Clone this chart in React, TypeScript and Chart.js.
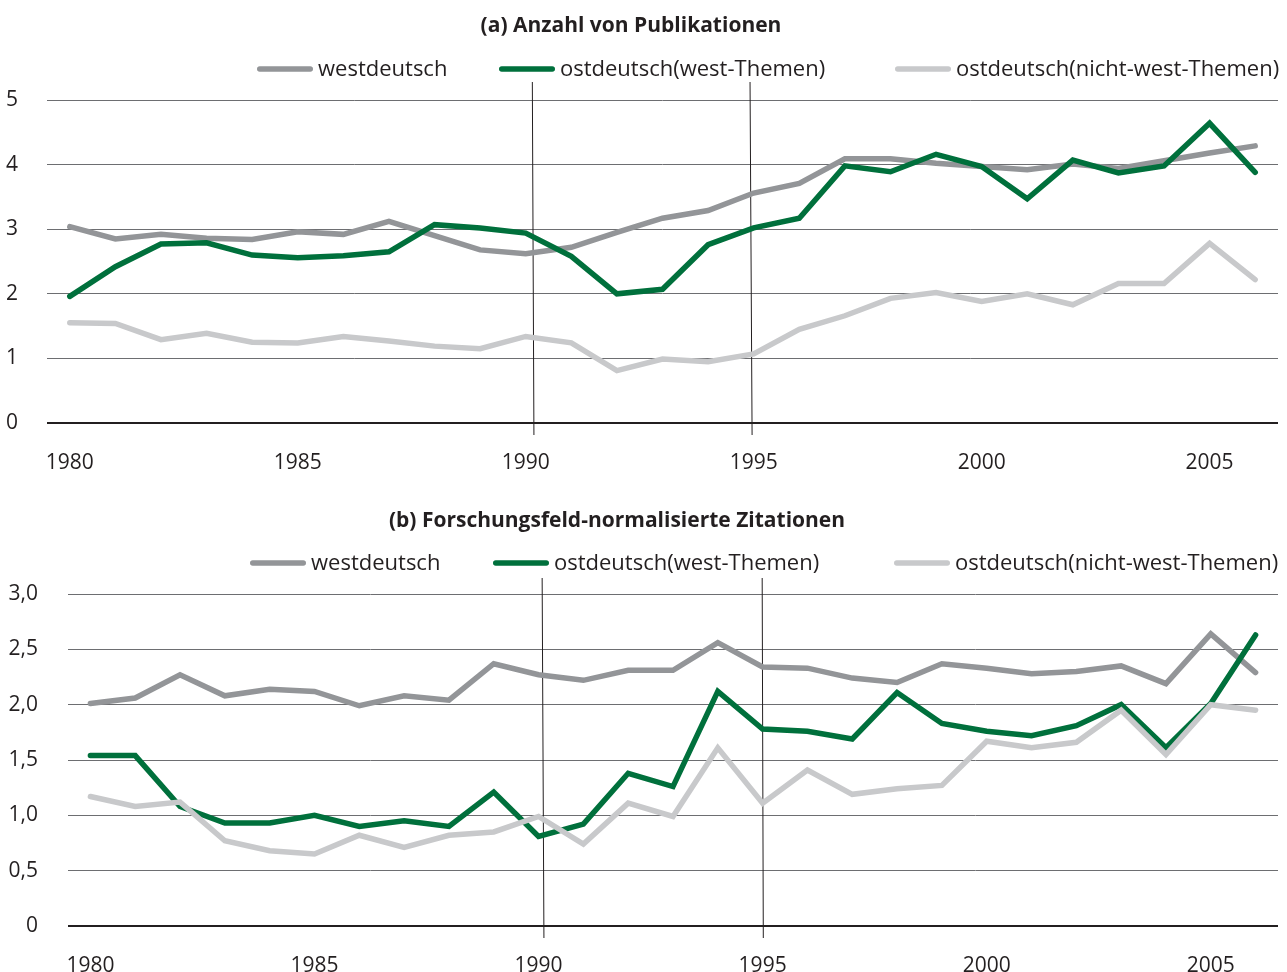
import React, { useEffect, useRef } from 'react';
import { Chart, registerables } from 'chart.js';

Chart.register(...registerables);

const years = ['1980','1981','1982','1983','1984','1985','1986','1987','1988','1989','1990','1991','1992','1993','1994','1995','1996','1997','1998','1999','2000','2001','2002','2003','2004','2005','2006'];
const xTickLabels = ['1980','1985','1990','1995','2000','2005'];
const markerYears = ['1990','1995'];

const seriesLabels = ['westdeutsch', 'ostdeutsch(west-Themen)', 'ostdeutsch(nicht-west-Themen)'];
const seriesColors = ['#939598', '#00703c', '#c8c9cb'];

// (a) Anzahl von Publikationen
const pubWest = [3.04,2.85,2.92,2.86,2.84,2.96,2.92,3.12,2.90,2.68,2.62,2.72,2.95,3.17,3.29,3.56,3.71,4.09,4.09,4.02,3.97,3.92,4.01,3.94,4.06,4.18,4.29];
const pubEastWest = [1.96,2.42,2.77,2.79,2.60,2.56,2.59,2.65,3.07,3.02,2.94,2.58,2.00,2.07,2.76,3.02,3.17,3.98,3.89,4.16,3.97,3.47,4.07,3.87,3.98,4.64,3.88];
const pubEastNonWest = [1.55,1.54,1.29,1.39,1.25,1.24,1.34,1.27,1.19,1.15,1.34,1.24,0.81,0.99,0.95,1.07,1.45,1.66,1.93,2.02,1.88,2.00,1.83,2.16,2.16,2.78,2.22];
const pubYTicks = [0,1,2,3,4,5];
const pubYTickLabels = ['0','1','2','3','4','5'];

// (b) Forschungsfeld-normalisierte Zitationen
const citWest = [2.01,2.06,2.27,2.08,2.14,2.12,1.99,2.08,2.04,2.37,2.27,2.22,2.31,2.31,2.56,2.34,2.33,2.24,2.20,2.37,2.33,2.28,2.30,2.35,2.19,2.64,2.29];
const citEastWest = [1.54,1.54,1.08,0.93,0.93,1.00,0.90,0.95,0.90,1.21,0.81,0.92,1.38,1.26,2.12,1.78,1.76,1.69,2.11,1.83,1.76,1.72,1.81,2.00,1.61,2.01,2.63];
const citEastNonWest = [1.17,1.08,1.12,0.77,0.68,0.65,0.82,0.71,0.82,0.85,0.99,0.74,1.11,0.99,1.61,1.11,1.41,1.19,1.24,1.27,1.67,1.61,1.66,1.95,1.55,2.00,1.95];
const citYTicks = [0,0.5,1,1.5,2,2.5,3];
const citYTickLabels = ['0','0,5','1,0','1,5','2,0','2,5','3,0'];

const FONT = '"Open Sans", "Noto Sans", sans-serif';
const TEXT = '#231f20';

const overlayPlugin = {
  id: 'overlay',
  beforeDatasetsDraw(chart: any, _args: any, opts: any) {
    const { ctx, chartArea } = chart;
    const xs = chart.scales.x;
    ctx.save();
    ctx.strokeStyle = TEXT;
    ctx.lineWidth = 1;
    for (const m of opts.markers) {
      const idx = years.indexOf(m.year);
      ctx.beginPath();
      ctx.moveTo(xs.getPixelForValue(idx + m.dTop), chartArea.top - opts.extTop);
      ctx.lineTo(xs.getPixelForValue(idx + m.dBottom), chartArea.bottom + opts.extBottom);
      ctx.stroke();
    }
    ctx.restore();
  },
  afterDraw(chart: any, _args: any, opts: any) {
    const { ctx } = chart;
    ctx.save();
    ctx.fillStyle = TEXT;
    ctx.font = `bold ${opts.titleSize}px ${FONT}`;
    ctx.textAlign = 'center';
    ctx.textBaseline = 'middle';
    ctx.fillText(opts.title, opts.titleX, opts.titleY);
    ctx.font = `${opts.legendSize}px ${FONT}`;
    ctx.textAlign = 'left';
    chart.data.datasets.forEach((ds: any, i: number) => {
      const x = opts.legendX[i];
      const y = opts.legendY;
      ctx.strokeStyle = ds.borderColor;
      ctx.lineWidth = 5.5;
      ctx.lineCap = 'round';
      ctx.beginPath();
      ctx.moveTo(x + 2.75, y);
      ctx.lineTo(x + opts.swatch - 2.75, y);
      ctx.stroke();
      ctx.fillStyle = TEXT;
      ctx.fillText(ds.label, x + opts.swatch + 5, y + 1);
    });
    ctx.restore();
  },
};

type Cfg = {
  top: number;
  height: number;
  series: number[][];
  yTicks: number[];
  yTickLabels: string[];
  yMax: number;
  yStep: number;
  yWidth: number;
  areaTop: number;
  xHeight: number;
  title: string;
  titleX: number;
  titleY: number;
  legendX: number[];
  legendY: number;
  markers: { year: string; dTop: number; dBottom: number }[];
  extTop: number;
};

function LineChart({ cfg }: { cfg: Cfg }) {
  const ref = useRef<HTMLCanvasElement>(null);
  useEffect(() => {
    const chart = new Chart(ref.current as HTMLCanvasElement, {
      type: 'line',
      data: {
        labels: years,
        datasets: cfg.series.map((s, i) => ({
          label: seriesLabels[i],
          data: s,
          borderColor: seriesColors[i],
          backgroundColor: seriesColors[i],
          borderWidth: 5.5,
          pointRadius: 0,
          pointHoverRadius: 0,
          tension: 0,
          borderCapStyle: 'round',
          borderJoinStyle: 'miter',
          fill: false,
          order: [2, 1, 0][i],
        })),
      },
      options: {
        animation: false,
        responsive: false,
        layout: { padding: { top: cfg.areaTop, right: 9, bottom: 0, left: 0 } },
        plugins: {
          legend: { display: false },
          title: { display: false },
          tooltip: { enabled: false },
          overlay: {
            title: cfg.title,
            titleX: cfg.titleX,
            titleY: cfg.titleY,
            titleSize: 21,
            legendX: cfg.legendX,
            legendY: cfg.legendY,
            legendSize: 22,
            swatch: 56,
            markers: cfg.markers,
            extTop: cfg.extTop,
            extBottom: 12,
          },
        } as any,
        scales: {
          x: {
            type: 'category',
            offset: true,
            grid: { display: false },
            border: { display: false },
            afterFit: (s: any) => { s.height = cfg.xHeight; },
            ticks: {
              autoSkip: false,
              maxRotation: 0,
              minRotation: 0,
              padding: 19,
              color: TEXT,
              font: { family: FONT, size: 21 },
              callback: (_v: any, i: number) => (xTickLabels.includes(years[i]) ? years[i] : ''),
            },
          },
          y: {
            min: 0,
            max: cfg.yMax,
            grid: {
              drawTicks: false,
              color: (c: any) => (c.tick && c.tick.value === 0 ? '#231f20' : '#6d6e71'),
              lineWidth: (c: any) => (c.tick && c.tick.value === 0 ? 2 : 1),
            },
            border: { display: false },
            afterFit: (s: any) => { s.width = cfg.yWidth; },
            ticks: {
              stepSize: cfg.yStep,
              padding: cfg.yWidth === 47 ? 29 : 30,
              color: TEXT,
              font: { family: FONT, size: 21 },
              callback: (v: any) => {
                const k = cfg.yTicks.findIndex((t) => Math.abs(t - Number(v)) < 1e-6);
                return k >= 0 ? cfg.yTickLabels[k] : '';
              },
            },
          },
        },
      },
      plugins: [overlayPlugin as any],
    });
    return () => chart.destroy();
  }, []);
  return (
    <div style={{ position: 'absolute', left: 0, top: cfg.top, width: 1287, height: cfg.height }}>
      <canvas ref={ref} width={1287} height={cfg.height} style={{ display: 'block' }} />
    </div>
  );
}

const chartA: Cfg = {
  top: 0,
  height: 486,
  series: [pubWest, pubEastWest, pubEastNonWest],
  yTicks: pubYTicks,
  yTickLabels: pubYTickLabels,
  yMax: 5,
  yStep: 1,
  yWidth: 47,
  areaTop: 100,
  xHeight: 63,
  title: '(a) Anzahl von Publikationen',
  titleX: 631,
  titleY: 26,
  legendX: [257, 499, 895],
  legendY: 69,
  markers: [
    { year: markerYears[0], dTop: 0.145, dBottom: 0.18 },
    { year: markerYears[1], dTop: -0.08, dBottom: -0.035 },
  ],
  extTop: 18,
};

const chartB: Cfg = {
  top: 486,
  height: 486,
  series: [citWest, citEastWest, citEastNonWest],
  yTicks: citYTicks,
  yTickLabels: citYTickLabels,
  yMax: 3,
  yStep: 0.5,
  yWidth: 68,
  areaTop: 108,
  xHeight: 46,
  title: '(b) Forschungsfeld-normalisierte Zitationen',
  titleX: 617,
  titleY: 35,
  legendX: [250, 493, 894],
  legendY: 77,
  markers: [
    { year: markerYears[0], dTop: 0.08, dBottom: 0.12 },
    { year: markerYears[1], dTop: -0.01, dBottom: 0.015 },
  ],
  extTop: 16,
};

export default function App() {
  return (
    <div style={{ position: 'absolute', left: 0, top: 0, width: 1287, height: 972, background: '#fff', overflow: 'hidden' }}>
      <LineChart cfg={chartA} />
      <LineChart cfg={chartB} />
    </div>
  );
}
